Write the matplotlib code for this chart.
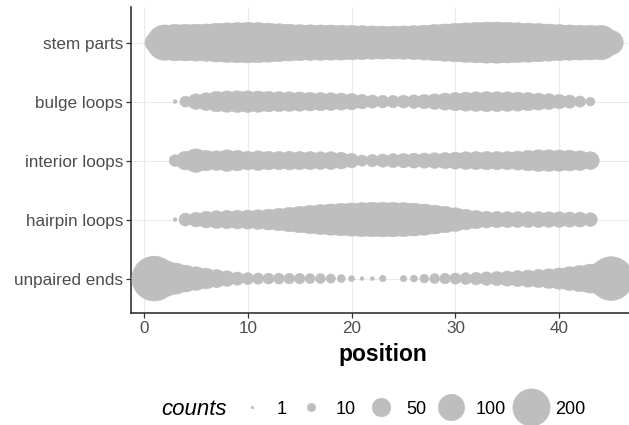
import matplotlib
matplotlib.use('Agg')
import matplotlib.pyplot as plt
from matplotlib.lines import Line2D
import numpy as np

plt.rcParams['font.family'] = ['Liberation Sans', 'DejaVu Sans']

# categories bottom -> top
categories = ['unpaired ends', 'hairpin loops', 'interior loops', 'bulge loops', 'stem parts']

positions = list(range(1, 46))

# counts per position (0 = no point), positions 1..45
stem_parts = [50, 180, 190, 192, 195, 200, 215, 225, 232, 236,
              230, 220, 205, 195, 185, 182, 180, 178, 175, 170,
              165, 160, 157, 157, 160, 165, 175, 188, 200, 212,
              225, 235, 242, 244, 238, 228, 220, 210, 198, 188,
              180, 175, 172, 170, 84]
bulge_loops = [0, 0, 2, 17, 35, 45, 60, 65, 67, 67,
               65, 60, 57, 55, 53, 50, 48, 45, 42, 38,
               30, 25, 23, 22, 24, 26, 30, 35, 42, 48,
               52, 55, 57, 57, 55, 52, 48, 42, 36, 30,
               25, 18, 11, 0, 0]
interior_loops = [0, 0, 20, 50, 80, 60, 55, 67, 60, 50,
                  55, 50, 48, 50, 48, 47, 45, 45, 40, 30,
                  18, 22, 25, 28, 30, 32, 33, 35, 38, 42,
                  45, 47, 48, 48, 48, 52, 60, 67, 67, 65,
                  62, 55, 45, 0, 0]
hairpin_loops = [0, 0, 2, 24, 31, 40, 45, 48, 50, 52,
                 55, 62, 72, 85, 100, 115, 128, 140, 150, 158,
                 165, 170, 172, 170, 165, 155, 140, 120, 100, 80,
                 60, 48, 40, 38, 37, 36, 36, 36, 35, 35,
                 33, 32, 27, 0, 0]
unpaired_ends = [289, 186, 139, 103, 80, 61, 46, 35, 25, 20,
                 18, 17, 17, 16, 16, 14, 14, 12, 9, 5,
                 2, 2, 6, 0, 6, 7, 11, 14, 16, 18,
                 20, 23, 26, 29, 33, 37, 42, 47, 55, 65,
                 80, 98, 120, 150, 276]

series = [unpaired_ends, hairpin_loops, interior_loops, bulge_loops, stem_parts]

legend_counts = [1, 10, 50, 100, 200]

grey = '#BEBEBE'
k = 3.6  # marker area (pt^2) per count
edge = 0.4

fig = plt.figure(figsize=(6.29, 4.25), dpi=100)
ax = fig.add_axes([0.209, 0.264, 0.799, 0.719])

for i, vals in enumerate(series):
    x = [p for p, c in zip(positions, vals) if c > 0]
    c = [v for v in vals if v > 0]
    ax.scatter(x, [i + 1] * len(x), s=[k * v for v in c], color=grey,
               edgecolors=grey, linewidths=edge, zorder=3)

ax.set_xlim(-1.2, 47.2)
ax.set_ylim(0.42, 5.6)
ax.set_xticks([0, 10, 20, 30, 40])
ax.set_yticks(range(1, 6))
ax.set_yticklabels(categories)

ax.grid(True, color='#EBEBEB', linewidth=0.8, zorder=0)
ax.set_axisbelow(True)
for s in ['top', 'right']:
    ax.spines[s].set_visible(False)
for s in ['left', 'bottom']:
    ax.spines[s].set_linewidth(1.1)
    ax.spines[s].set_color('#222222')
ax.tick_params(direction='out', length=3.5, width=0.9, color='#333333',
               labelcolor='#4D4D4D', labelsize=12.3, pad=2.5)

ax.set_xlabel('position', fontsize=16.5, fontweight='bold', labelpad=5)

handles = [Line2D([], [], linestyle='', marker='o', markersize=np.sqrt(k * c),
                  markerfacecolor=grey, markeredgecolor=grey, markeredgewidth=edge)
           for c in legend_counts]
leg = fig.legend(handles, [str(c) for c in legend_counts], title='counts',
                 loc='center left', bbox_to_anchor=(0.242, 0.037), ncol=5, frameon=False,
                 fontsize=13, handlelength=1.65, handletextpad=0.55,
                 columnspacing=0.55, borderpad=0)
leg.get_title().set_fontsize(16)
leg.get_title().set_fontstyle('italic')
# put the legend title to the left of the keys
box = leg.get_children()[0]
title_box = box.get_children()[0]
keys_box = box.get_children()[1]
box._children = [keys_box]
keys_box._children = [title_box] + keys_box.get_children()
keys_box.align = 'center'

fig.savefig('out.png', dpi=100)
